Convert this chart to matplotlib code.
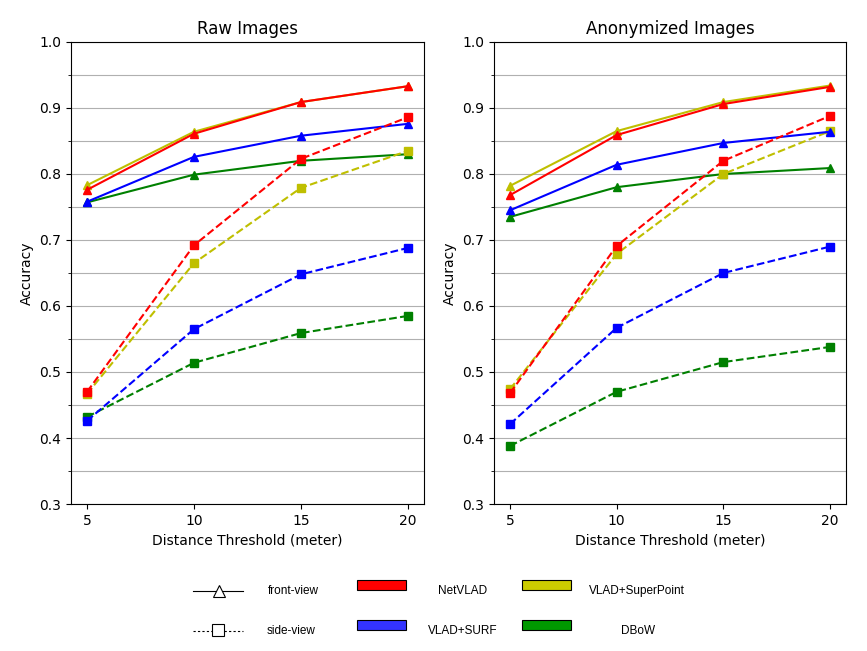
import matplotlib.pyplot as plt
import numpy as np
from matplotlib.lines import Line2D
from matplotlib.patches import Rectangle
from matplotlib.ticker import MultipleLocator

thresholds = [5, 10, 15, 20]
methods = ["DBoW", "VLAD+SuperPoint", "VLAD+SURF", "NetVLAD"]
colors = {"NetVLAD": "r", "VLAD+SURF": "b", "VLAD+SuperPoint": "y", "DBoW": "g"}

# raw images
raw_front = {
    "NetVLAD": [0.776, 0.861, 0.909, 0.933],
    "VLAD+SuperPoint": [0.783, 0.864, 0.909, 0.933],
    "VLAD+SURF": [0.758, 0.826, 0.858, 0.876],
    "DBoW": [0.757, 0.799, 0.820, 0.830],
}
raw_side = {
    "NetVLAD": [0.470, 0.692, 0.823, 0.886],
    "VLAD+SuperPoint": [0.467, 0.665, 0.779, 0.835],
    "VLAD+SURF": [0.426, 0.565, 0.648, 0.688],
    "DBoW": [0.432, 0.514, 0.559, 0.585],
}
# anonymized images
anon_front = {
    "NetVLAD": [0.768, 0.859, 0.906, 0.932],
    "VLAD+SuperPoint": [0.782, 0.865, 0.909, 0.934],
    "VLAD+SURF": [0.745, 0.814, 0.847, 0.864],
    "DBoW": [0.735, 0.780, 0.800, 0.809],
}
anon_side = {
    "NetVLAD": [0.468, 0.691, 0.820, 0.888],
    "VLAD+SuperPoint": [0.474, 0.679, 0.800, 0.865],
    "VLAD+SURF": [0.421, 0.567, 0.650, 0.690],
    "DBoW": [0.388, 0.470, 0.515, 0.538],
}

fig = plt.figure(figsize=(8.67, 6.51), dpi=100)
ax1 = fig.add_axes([0.0819, 0.2258, 0.4071, 0.7097])
ax2 = fig.add_axes([0.5698, 0.2258, 0.4060, 0.7097])

for ax, front, side, title in [
    (ax1, raw_front, raw_side, "Raw Images"),
    (ax2, anon_front, anon_side, "Anonymized Images"),
]:
    for m in methods:
        ax.plot(thresholds, front[m], "-^", color=colors[m], markersize=6)
        ax.plot(thresholds, side[m], "--s", color=colors[m], markersize=6)
    ax.set_ylim(0.3, 1.0)
    ax.set_xticks(thresholds)
    ax.yaxis.set_major_locator(MultipleLocator(0.1))
    ax.yaxis.set_minor_locator(MultipleLocator(0.05))
    ax.grid(True, axis="y", which="both", color="#b0b0b0")
    ax.set_axisbelow(True)
    ax.set_title(title, fontsize=12)
    ax.set_xlabel("Distance Threshold (meter)")
    ax.set_ylabel("Accuracy")

# custom legend at the bottom
leg = fig.add_axes([0, 0, 1, 1], facecolor="none")
leg.set_xlim(0, 867)
leg.set_ylim(651, 0)
leg.axis("off")
lf = "Liberation Sans"
fs = 8.5

leg.add_line(Line2D([193, 243], [591, 591], color="k", lw=0.8))
leg.plot([219], [591], "^", mfc="white", mec="k", ms=8, mew=0.8)
leg.add_line(Line2D([193, 243], [631, 631], color="k", lw=0.8, ls=(0, (2, 2))))
leg.plot([218], [630], "s", mfc="white", mec="k", ms=8, mew=0.8)
leg.text(293, 591, "front-view", ha="center", va="center", fontsize=fs, family=lf)
leg.text(291, 631, "side-view", ha="center", va="center", fontsize=fs, family=lf)

patches = [
    (357, 580, "#ff0000", "NetVLAD", 463, 591),
    (357, 620, "#3333ff", "VLAD+SURF", 463, 631),
    (522, 580, "#cccc00", "VLAD+SuperPoint", 637, 591),
    (522, 620, "#009900", "DBoW", 638, 631),
]
for px, py, c, lab, tx, ty in patches:
    leg.add_patch(Rectangle((px, py), 49, 10, facecolor=c, edgecolor="k", lw=0.8))
    leg.text(tx, ty, lab, ha="center", va="center", fontsize=fs, family=lf)

fig.savefig("out.png", dpi=100)
